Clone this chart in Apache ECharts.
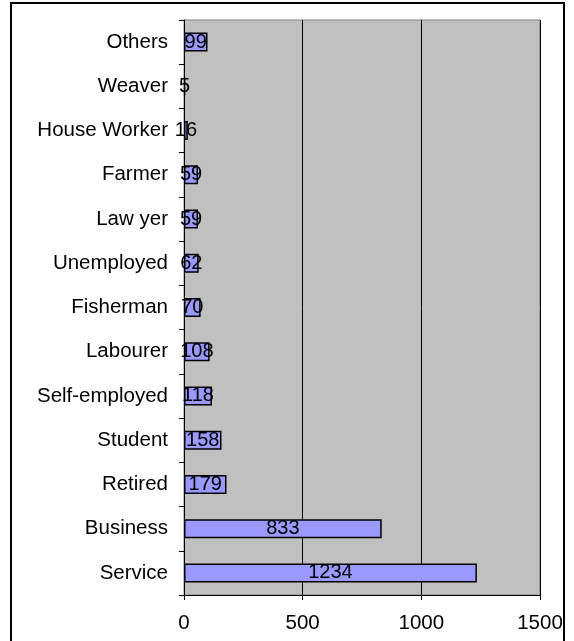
<!DOCTYPE html>
<html><head><meta charset="utf-8">
<script src="https://cdn.jsdelivr.net/npm/echarts@6/dist/echarts.min.js"></script>
<style>html,body{margin:0;padding:0;background:#fff;}#c{width:574px;height:641px;}</style>
</head><body><div id="c"></div>
<script>
var categories = ['Service','Business','Retired','Student','Self-employed','Labourer','Fisherman','Unemployed','Law yer','Farmer','House Worker','Weaver','Others'];
var values = [1234,833,179,158,118,108,70,62,59,59,16,5,99];
var xTicks = [0,500,1000,1500];

var chart = echarts.init(document.getElementById('c'));
var font = 'Liberation Sans, Arial, sans-serif';
chart.setOption({
  animation:false,
  backgroundColor:'#fff',
  grid:{left:184,top:20,right:34,bottom:46,show:true,backgroundColor:'#C0C0C0',borderColor:'#808080',borderWidth:1},
  graphic:[{type:'rect',shape:{x:11,y:3,width:553,height:650},style:{fill:'none',stroke:'#000',lineWidth:2},silent:true}],
  xAxis:{type:'value',min:xTicks[0],max:xTicks[xTicks.length-1],interval:500,
    axisLine:{show:true,lineStyle:{color:'#000',width:1}},
    axisTick:{show:true,length:5,lineStyle:{color:'#000'}},
    axisLabel:{color:'#000',fontFamily:font,fontSize:20.5,margin:18,formatter:function(v){return String(v);}},
    splitLine:{show:true,lineStyle:{color:'#000',width:1}}},
  yAxis:{type:'category',data:categories,
    axisLine:{show:true,lineStyle:{color:'#000',width:1}},
    axisTick:{show:true,length:5,lineStyle:{color:'#000'}},
    axisLabel:{color:'#000',fontFamily:font,fontSize:20.5,margin:16}},
  series:[{type:'bar',data:values,barWidth:19,
    itemStyle:{color:'#9999FF',borderColor:'#000',borderWidth:1.5},
    label:{show:true,position:'inside',color:'#000',fontFamily:font,fontSize:20}}]
});
</script></body></html>
